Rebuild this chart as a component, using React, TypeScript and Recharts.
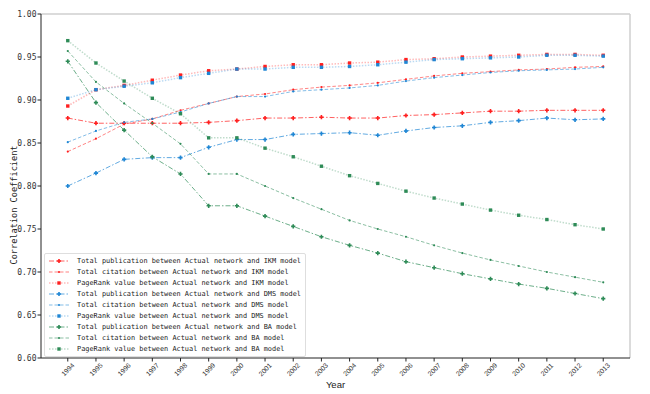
import React from "react";
import { LineChart, Line, XAxis, YAxis, ReferenceLine } from "recharts";

const years = [1994, 1995, 1996, 1997, 1998, 1999, 2000, 2001, 2002, 2003, 2004, 2005, 2006, 2007, 2008, 2009, 2010, 2011, 2012, 2013];

const ikmPub = [0.879, 0.873, 0.873, 0.873, 0.873, 0.874, 0.876, 0.879, 0.879, 0.880, 0.879, 0.879, 0.882, 0.883, 0.885, 0.887, 0.887, 0.888, 0.888, 0.888];
const ikmCit = [0.840, 0.855, 0.872, 0.878, 0.888, 0.896, 0.904, 0.907, 0.912, 0.915, 0.917, 0.920, 0.924, 0.928, 0.931, 0.933, 0.935, 0.936, 0.938, 0.939];
const ikmPR = [0.893, 0.912, 0.917, 0.923, 0.929, 0.934, 0.936, 0.939, 0.941, 0.941, 0.943, 0.944, 0.947, 0.948, 0.950, 0.951, 0.952, 0.953, 0.953, 0.952];
const dmsPub = [0.800, 0.815, 0.831, 0.833, 0.833, 0.845, 0.854, 0.854, 0.860, 0.861, 0.862, 0.859, 0.864, 0.868, 0.870, 0.874, 0.876, 0.879, 0.877, 0.878];
const dmsCit = [0.851, 0.864, 0.874, 0.878, 0.886, 0.896, 0.904, 0.904, 0.910, 0.912, 0.914, 0.917, 0.922, 0.926, 0.929, 0.932, 0.934, 0.935, 0.936, 0.938];
const dmsPR = [0.902, 0.912, 0.916, 0.920, 0.926, 0.931, 0.936, 0.936, 0.938, 0.938, 0.939, 0.941, 0.944, 0.947, 0.948, 0.949, 0.950, 0.952, 0.952, 0.951];
const baPub = [0.945, 0.897, 0.865, 0.834, 0.814, 0.777, 0.777, 0.765, 0.753, 0.741, 0.731, 0.722, 0.712, 0.705, 0.698, 0.692, 0.686, 0.681, 0.675, 0.669];
const baCit = [0.957, 0.921, 0.896, 0.873, 0.849, 0.814, 0.814, 0.800, 0.786, 0.773, 0.760, 0.750, 0.741, 0.731, 0.722, 0.714, 0.707, 0.700, 0.694, 0.688];
const baPR = [0.969, 0.943, 0.922, 0.902, 0.884, 0.856, 0.856, 0.844, 0.834, 0.823, 0.812, 0.803, 0.794, 0.786, 0.779, 0.772, 0.766, 0.761, 0.755, 0.750];

const yTicks = [0.6, 0.65, 0.7, 0.75, 0.8, 0.85, 0.9, 0.95, 1.0];

const RED = "#ff1f1f";
const BLUE = "#1f86d4";
const GREEN = "#2e8b57";

type Kind = "pub" | "cit" | "pr";
const series: { key: string; name: string; color: string; kind: Kind; values: number[] }[] = [
  { key: "ikmPub", name: "Total publication between Actual network and IKM model", color: RED, kind: "pub", values: ikmPub },
  { key: "ikmCit", name: "Total citation between Actual network and IKM model", color: RED, kind: "cit", values: ikmCit },
  { key: "ikmPR", name: "PageRank value between Actual network and IKM model", color: RED, kind: "pr", values: ikmPR },
  { key: "dmsPub", name: "Total publication between Actual network and DMS model", color: BLUE, kind: "pub", values: dmsPub },
  { key: "dmsCit", name: "Total citation between Actual network and DMS model", color: BLUE, kind: "cit", values: dmsCit },
  { key: "dmsPR", name: "PageRank value between Actual network and DMS model", color: BLUE, kind: "pr", values: dmsPR },
  { key: "baPub", name: "Total publication between Actual network and BA model", color: GREEN, kind: "pub", values: baPub },
  { key: "baCit", name: "Total citation between Actual network and BA model", color: GREEN, kind: "cit", values: baCit },
  { key: "baPR", name: "PageRank value between Actual network and BA model", color: GREEN, kind: "pr", values: baPR },
];

const data = years.map((y, i) => {
  const row: Record<string, number> = { year: y };
  series.forEach((s) => (row[s.key] = s.values[i]));
  return row;
});

const styleFor = (kind: Kind) => {
  if (kind === "pub") return { dash: "5 2 1.5 2", opacity: 0.7, width: 1 };
  if (kind === "cit") return { dash: "3.5 2", opacity: 0.55, width: 1 };
  return { dash: "1.5 1.5", opacity: 0.3, width: 1.5 };
};

const Marker = ({ cx, cy, color, kind }: { cx: number; cy: number; color: string; kind: Kind }) => {
  if (cx == null || cy == null) return null;
  if (kind === "pub") {
    const a = 2.1;
    const b = 0.8;
    const d = `M${cx - b},${cy - a}H${cx + b}V${cy - b}H${cx + a}V${cy + b}H${cx + b}V${cy + a}H${cx - b}V${cy + b}H${cx - a}V${cy - b}H${cx - b}Z`;
    return <path d={d} fill={color} />;
  }
  if (kind === "cit") return <circle cx={cx} cy={cy} r={1.1} fill={color} />;
  return <rect x={cx - 1.7} y={cy - 1.7} width={3.4} height={3.4} fill={color} />;
};

const XTick = (props: any) => {
  const { x, y, payload } = props;
  const cy = y + 8;
  return (
    <text
      x={x}
      y={cy}
      transform={`rotate(-45 ${x} ${cy})`}
      textAnchor="middle"
      dominantBaseline="central"
      fontSize={6.8}
      fontFamily="'Liberation Sans', Arial, sans-serif"
      fill="#333"
    >
      {payload.value}
    </text>
  );
};

const LegendSample = ({ color, kind }: { color: string; kind: Kind }) => {
  const st = styleFor(kind);
  return (
    <svg width={22} height={8} style={{ display: "block" }}>
      <line x1={1} y1={4} x2={21} y2={4} stroke={color} strokeOpacity={st.opacity} strokeWidth={st.width} strokeDasharray={st.dash} />
      <Marker cx={11} cy={4} color={color} kind={kind} />
    </svg>
  );
};

export default function App() {
  return (
    <div style={{ position: "relative", width: 642, height: 386 }}>
      <LineChart width={642} height={386} data={data} margin={{ top: 6, right: 20, bottom: 0, left: 0 }}>
        <XAxis
          dataKey="year"
          type="number"
          domain={[1993.05, 2013.95]}
          ticks={years}
          interval={0}
          height={36}
          tickSize={3.5}
          tickMargin={0}
          tick={<XTick />}
          axisLine={{ stroke: "#222", strokeWidth: 1 }}
          tickLine={{ stroke: "#222" }}
          allowDataOverflow
        />
        <YAxis
          type="number"
          domain={[0.6, 1.0]}
          ticks={yTicks}
          width={33}
          tickSize={3.5}
          tickMargin={1}
          tickFormatter={(v: number) => v.toFixed(2)}
          tick={{ fontSize: 8, fontFamily: "'DejaVu Sans Mono', monospace", fill: "#333" }}
          axisLine={{ stroke: "#222", strokeWidth: 1 }}
          tickLine={{ stroke: "#222" }}
          allowDataOverflow
        />
        <ReferenceLine y={1.0} stroke="#cfcfcf" strokeWidth={1.5} />
        <ReferenceLine x={2013.95} stroke="#cfcfcf" strokeWidth={1.5} />
        {series.map((s) => {
          const st = styleFor(s.kind);
          return (
            <Line
              key={s.key}
              dataKey={s.key}
              name={s.name}
              stroke={s.color}
              strokeOpacity={st.opacity}
              strokeWidth={st.width}
              strokeDasharray={st.dash}
              isAnimationActive={false}
              dot={(p: any) => <Marker key={`${s.key}-${p.index}`} cx={p.cx} cy={p.cy} color={s.color} kind={s.kind} />}
              activeDot={false}
            />
          );
        })}
      </LineChart>
      <div
        style={{
          position: "absolute",
          left: 6,
          top: 0,
          width: 0,
          height: 386,
        }}
      >
        <div
          style={{
            position: "absolute",
            left: 0,
            top: 197,
            transform: "translate(-50%, -50%) rotate(-90deg)",
            whiteSpace: "nowrap",
            fontSize: 8.6,
            fontFamily: "'DejaVu Sans Mono', monospace",
            color: "#222",
          }}
        >
          Correlation Coefficient
        </div>
      </div>
      <div
        style={{
          position: "absolute",
          left: 327.5,
          top: 371,
          transform: "translateX(-50%)",
          fontSize: 9.5,
          fontFamily: "'Liberation Sans', Arial, sans-serif",
          color: "#222",
        }}
      >
        Year
      </div>
      <div
        style={{
          position: "absolute",
          left: 36,
          top: 245,
          border: "1px solid #dedede",
          borderRadius: 2,
          background: "rgba(255,255,255,0.8)",
          padding: "2px 4px 2px 3px",
        }}
      >
        {series.map((s) => (
          <div key={s.key} style={{ display: "flex", alignItems: "center", height: 10.9 }}>
            <LegendSample color={s.color} kind={s.kind} />
            <span
              style={{
                marginLeft: 7,
                fontSize: 6.9,
                fontFamily: "'DejaVu Sans Mono', monospace",
                color: "#222",
                whiteSpace: "nowrap",
              }}
            >
              {s.name}
            </span>
          </div>
        ))}
      </div>
    </div>
  );
}
